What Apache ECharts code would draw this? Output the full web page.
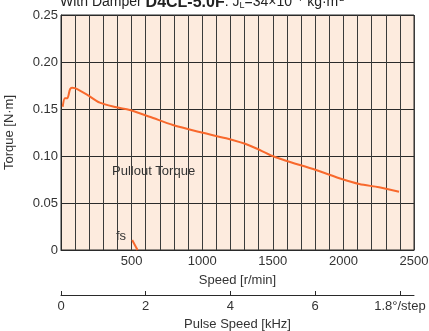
<!DOCTYPE html>
<html><head><meta charset="utf-8">
<script src="https://cdn.jsdelivr.net/npm/echarts@6/dist/echarts.min.js"></script>
<style>html,body{margin:0;padding:0;background:#fff}#c{width:429px;height:331px}</style>
</head><body><div id="c"></div>
<script>
var speedRpm = [12, 28, 44, 64, 78, 99, 181, 275, 393, 487, 628, 793, 982, 1170, 1335, 1499, 1594, 1806, 1994, 2112, 2253, 2394];
var pulloutTorque = [0.1524, 0.1614, 0.1614, 0.1710, 0.1727, 0.1723, 0.1656, 0.1567, 0.1518, 0.1489, 0.1418, 0.1330, 0.1255, 0.1188, 0.1112, 0.1000, 0.0950, 0.0851, 0.0752, 0.0702, 0.0667, 0.0620];
var fsRpm = [504, 542];
var fsTorque = [0.0106, 0];
var yTicks = [0, 0.05, 0.10, 0.15, 0.20, 0.25];
var speedTickLabels = [500, 1000, 1500, 2000, 2500];
var pulseTickLabels = ['0', '2', '4', '6', '1.8°/step'];

var FONT = '"Liberation Sans",Arial,sans-serif';
var FS = 13;
var chart = echarts.init(document.getElementById('c'));
function pairs(xs, ys){ return xs.map(function(x,i){return [x, ys[i]];}); }
chart.setOption({
  animation: false,
  textStyle: {fontFamily: FONT},
  title: {
    left: 60, top: -6, padding: 0,
    text: '{a|With Damper }{b|D4CL-5.0F}{a|: J}{s|L}{a|=34×10}{p|−7}{a| kg·m}{p|2}',
    textStyle: {
      fontWeight: 'normal',
      rich: {
        a: {fontFamily: FONT, fontSize: 14, fontWeight: 'normal', color: '#222'},
        b: {fontFamily: FONT, fontSize: 16, fontWeight: 'bold', color: '#222'},
        s: {fontFamily: FONT, fontSize: 9, fontWeight: 'normal', color: '#222', padding: [6,0,0,0]},
        p: {fontFamily: FONT, fontSize: 9, fontWeight: 'normal', color: '#222', padding: [0,0,8,1]}
      }
    }
  },
  grid: {left: 61, right: 15, top: 15, bottom: 81, show: true, backgroundColor: '#fdebde', borderColor: '#2a2a2a', borderWidth: 1, containLabel: false, outerBoundsMode: 'none'},
  xAxis: [{
    type: 'value', min: 0, max: 2500, interval: 100, position: 'bottom',
    axisLine: {show: true, lineStyle: {color: '#2a2a2a'}},
    axisTick: {show: false},
    splitLine: {show: true, lineStyle: {color: '#3a3a3a', width: 1}},
    axisLabel: {
      fontSize: FS, color: '#333', margin: 5, fontFamily: FONT,
      formatter: function(v){ return speedTickLabels.indexOf(v) >= 0 ? String(v) : ''; }
    },
    name: 'Speed [r/min]', nameLocation: 'middle', nameGap: 24,
    nameTextStyle: {fontSize: FS, color: '#333', fontFamily: FONT}
  }, {
    type: 'value', min: 0, max: 2500/300, interval: 2, position: 'bottom', offset: 45,
    axisLine: {show: true, lineStyle: {color: '#2a2a2a'}},
    axisTick: {show: true, inside: true, length: 4, lineStyle: {color: '#2a2a2a'}},
    splitLine: {show: false},
    axisLabel: {
      fontSize: FS, color: '#333', margin: 5, fontFamily: FONT, showMaxLabel: false,
      formatter: function(v){ var i = Math.round(v/2); return (Math.abs(v - i*2) < 1e-6 && i < pulseTickLabels.length) ? pulseTickLabels[i] : ''; }
    },
    name: 'Pulse Speed [kHz]', nameLocation: 'middle', nameGap: 21,
    nameTextStyle: {fontSize: FS, color: '#333', fontFamily: FONT}
  }],
  yAxis: {
    type: 'value', min: 0, max: 0.25, interval: 0.05,
    axisLine: {show: true, lineStyle: {color: '#2a2a2a'}},
    axisTick: {show: false},
    splitLine: {show: true, lineStyle: {color: '#2a2a2a', width: 1}},
    axisLabel: {
      fontSize: FS, color: '#333', margin: 3, fontFamily: FONT,
      formatter: function(v){ return v === 0 ? '0' : v.toFixed(2); }
    },
    name: 'Torque [N·m]', nameLocation: 'middle', nameGap: 45,
    nameTextStyle: {fontSize: FS, color: '#333', fontFamily: FONT}
  },
  series: [{
    type: 'line', xAxisIndex: 0, data: pairs(speedRpm, pulloutTorque), smooth: 0.3,
    symbol: 'none', lineStyle: {color: '#f8682c', width: 2}
  }, {
    type: 'line', xAxisIndex: 0, data: pairs(fsRpm, fsTorque),
    symbol: 'none', lineStyle: {color: '#f8682c', width: 2}
  }],
  graphic: [
    {type: 'text', left: 112, top: 165, style: {text: 'Pullout Torque', font: FS + 'px ' + FONT, fill: '#333'}},
    {type: 'text', left: 116, top: 230, style: {text: 'fs', font: FS + 'px ' + FONT, fill: '#333'}}
  ]
});
</script></body></html>
